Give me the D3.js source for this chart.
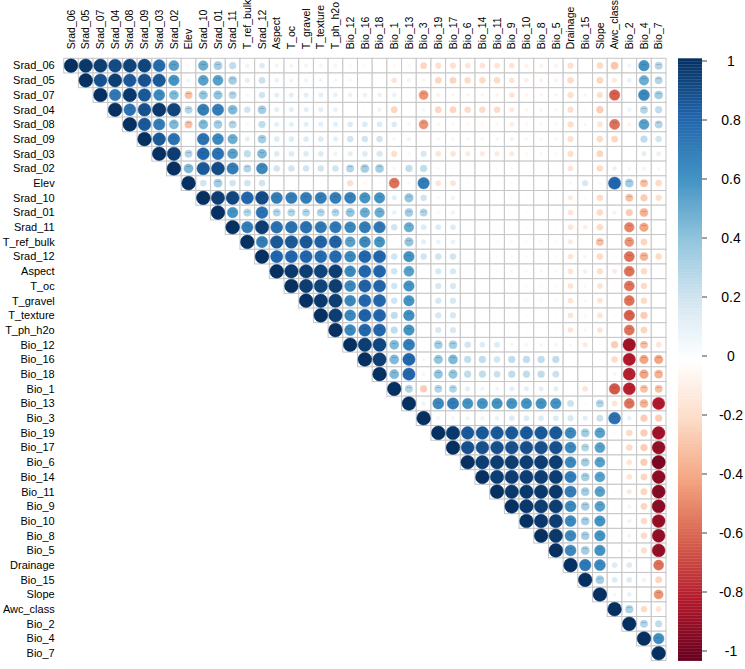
<!DOCTYPE html>
<html lang="en">
<head>
<meta charset="utf-8">
<title>Correlation plot</title>
<style>
    body { margin: 0; background: #fff; }
    text { font-family: "Liberation Sans", Arial, sans-serif; }
</style>
</head>
<body>
<div id="chart"></div>
<script src="https://cdn.jsdelivr.net/npm/d3@7"></script>
<script>
    // variable order (rows and columns)
    const vars = ["Srad_06", "Srad_05", "Srad_07", "Srad_04", "Srad_08", "Srad_09", "Srad_03", "Srad_02",
        "Elev", "Srad_10", "Srad_01", "Srad_11", "T_ref_bulk", "Srad_12", "Aspect", "T_oc", "T_gravel",
        "T_texture", "T_ph_h2o", "Bio_12", "Bio_16", "Bio_18", "Bio_1", "Bio_13", "Bio_3", "Bio_19",
        "Bio_17", "Bio_6", "Bio_14", "Bio_11", "Bio_9", "Bio_10", "Bio_8", "Bio_5", "Drainage", "Bio_15",
        "Slope", "Awc_class", "Bio_2", "Bio_4", "Bio_7"];

    // upper triangle: row i holds r(i, j) for j = i+1 .. end
    const upper = [
        [0.97, 0.95, 0.9, 0.93, 0.92, 0.78, 0.55, -0.05, 0.5, 0.35, 0.25, 0.08, 0.15, 0.08, 0.07, 0.07, 0.06, 0.06, -0.05, -0.04, 0, -0.05, -0.05, -0.22, -0.17, -0.17, -0.15, -0.15, -0.15, -0.15, -0.08, -0.08, -0.08, -0.18, 0, -0.2, -0.28, 0.08, 0.6, 0.3],
        [0.88, 0.95, 0.85, 0.88, 0.85, 0.6, 0.08, 0.55, 0.55, 0.35, 0.12, 0.22, 0.1, 0.08, 0.08, 0.07, 0.06, -0.06, 0, 0, -0.15, -0.08, -0.06, -0.22, -0.22, -0.2, -0.2, -0.2, -0.15, -0.1, -0.08, -0.08, -0.2, 0, -0.22, -0.12, 0.1, 0.5, 0.3],
        [0.72, 0.97, 0.85, 0.65, 0.45, -0.3, 0.4, 0.4, 0.3, 0.05, 0.2, 0.12, 0.12, 0.12, 0.12, 0.1, 0.1, 0.1, 0.1, 0.1, 0.02, -0.45, -0.08, -0.06, -0.06, -0.06, -0.06, -0.15, -0.06, -0.06, -0.06, -0.18, -0.06, -0.18, -0.6, 0, 0.65, 0.35],
        [0.75, 0.88, 0.97, 0.92, 0.3, 0.7, 0.7, 0.45, 0.2, 0.35, 0.12, 0.12, 0.12, 0.12, 0.1, 0, 0.03, 0.08, -0.22, 0, 0.06, -0.22, -0.22, -0.2, -0.2, -0.2, -0.12, -0.06, -0.06, -0.06, -0.18, 0.03, -0.25, 0, 0.08, 0.3, 0.25],
        [0.85, 0.7, 0.45, -0.3, 0.45, 0.35, 0.3, 0.05, 0.25, 0.12, 0.12, 0.12, 0.12, 0.12, 0.15, 0.15, 0.15, 0.15, 0.06, -0.45, -0.06, -0.05, -0.05, -0.05, -0.05, -0.1, -0.05, -0.05, -0.05, -0.18, -0.06, -0.15, -0.55, -0.08, 0.55, 0.3],
        [0.85, 0.75, 0.02, 0.75, 0.65, 0.5, 0.12, 0.35, 0.15, 0.15, 0.15, 0.15, 0.12, 0.2, 0.2, 0.2, 0.06, 0.08, 0, -0.06, -0.06, -0.06, -0.06, -0.06, -0.08, -0.05, -0.05, -0.05, -0.18, 0, -0.2, -0.22, 0, 0.25, 0.2],
        [0.95, 0.3, 0.8, 0.75, 0.55, 0.25, 0.45, 0.15, 0.15, 0.15, 0.15, 0.08, 0.12, 0.15, 0.18, -0.18, 0.05, 0.18, -0.15, -0.15, -0.12, -0.12, -0.12, -0.12, -0.05, -0.05, -0.05, -0.18, 0, -0.22, 0, 0, 0.12, 0.1],
        [0.45, 0.85, 0.9, 0.7, 0.3, 0.65, 0.2, 0.2, 0.2, 0.2, 0.2, 0.3, 0.35, 0.35, -0.06, 0.25, 0.25, -0.04, -0.04, -0.03, -0.03, -0.03, -0.04, -0.03, -0.03, -0.03, -0.15, 0, -0.2, 0.1, -0.06, -0.08, -0.05],
        [0.2, 0.35, 0.2, 0.2, 0.2, 0, 0, 0.02, 0.02, 0, -0.18, -0.05, -0.03, -0.55, -0.04, 0.7, -0.15, -0.15, -0.03, -0.03, -0.02, 0.03, 0, 0, 0, 0.05, 0.18, 0.04, 0.8, 0.35, -0.3, -0.2],
        [0.95, 0.92, 0.8, 0.9, 0.7, 0.7, 0.7, 0.7, 0.7, 0.68, 0.6, 0.6, 0.12, 0.4, 0.2, 0.05, 0.08, 0, 0, 0, -0.04, -0.03, -0.03, -0.03, -0.12, -0.04, -0.2, 0, -0.3, -0.25, -0.18],
        [0.6, 0.3, 0.75, 0.3, 0.3, 0.3, 0.3, 0.3, 0.4, 0.5, 0.5, 0.1, 0.35, 0.3, 0.05, 0.08, 0, 0, 0, 0, -0.03, -0.03, -0.03, -0.15, -0.03, -0.2, 0.08, -0.25, -0.35, 0],
        [0.7, 0.95, 0.75, 0.75, 0.75, 0.72, 0.72, 0.65, 0.7, 0.72, 0.2, 0.5, 0.15, 0.15, 0.15, 0.02, 0, 0.02, 0, -0.03, 0, -0.03, -0.15, -0.1, -0.2, 0, -0.5, -0.4, 0],
        [0.7, 0.85, 0.85, 0.85, 0.82, 0.82, 0.55, 0.65, 0.6, 0.02, 0.4, 0.12, 0.1, 0.1, -0.02, -0.02, -0.03, -0.05, -0.04, -0.04, -0.04, -0.12, 0, -0.3, 0, -0.45, -0.22, 0],
        [0.8, 0.8, 0.8, 0.78, 0.78, 0.65, 0.8, 0.8, 0.2, 0.6, 0.2, 0.2, 0.2, 0, 0, -0.03, -0.04, -0.04, -0.04, -0.04, -0.15, -0.06, -0.2, -0.03, -0.55, -0.35, -0.2],
        [0.97, 0.95, 0.93, 0.95, 0.65, 0.8, 0.8, 0.2, 0.55, 0, 0.18, 0.18, 0, 0, -0.03, -0.05, -0.05, -0.05, -0.05, -0.15, -0.1, -0.18, -0.12, -0.55, -0.2, 0],
        [0.95, 0.93, 0.95, 0.65, 0.82, 0.8, 0.2, 0.6, 0, 0.18, 0.18, 0, 0, -0.02, -0.04, -0.04, -0.04, -0.04, -0.15, -0.05, -0.15, -0.03, -0.55, -0.2, 0],
        [0.97, 0.95, 0.65, 0.8, 0.8, 0.2, 0.6, 0.02, 0.18, 0.18, 0.02, 0.02, 0, -0.04, -0.04, -0.04, -0.04, -0.15, -0.05, -0.15, -0.03, -0.55, -0.2, 0],
        [0.95, 0.65, 0.82, 0.8, 0.25, 0.62, 0, 0.18, 0.18, 0, 0, 0, -0.03, -0.03, -0.03, -0.03, -0.15, -0.05, -0.15, -0.03, -0.6, -0.25, 0],
        [0.65, 0.8, 0.8, 0.25, 0.6, 0, 0.18, 0.18, 0, 0, 0, -0.03, -0.03, -0.03, -0.03, -0.15, -0.05, -0.15, -0.03, -0.55, -0.22, 0],
        [0.95, 0.92, 0.45, 0.7, 0, 0.35, 0.35, 0.2, 0.15, 0.15, 0.06, 0.06, 0.06, 0.06, -0.05, -0.12, -0.02, -0.25, -0.85, -0.3, -0.15],
        [0.95, 0.45, 0.8, 0.05, 0.4, 0.45, 0.25, 0.25, 0.2, 0.25, 0.25, 0.25, 0.25, 0, -0.02, -0.03, -0.2, -0.8, -0.4, -0.4],
        [0.45, 0.8, 0.06, 0.4, 0.4, 0.25, 0.25, 0.22, 0.25, 0.25, 0.25, 0.22, 0, -0.02, -0.02, -0.06, -0.78, -0.4, -0.35],
        [0.3, -0.25, 0.3, 0.3, 0.12, 0.08, 0.08, 0.12, 0.12, 0.12, 0.12, 0.02, -0.15, 0, -0.62, -0.78, -0.3, -0.3],
        [0.08, 0.65, 0.7, 0.6, 0.6, 0.6, 0.6, 0.6, 0.6, 0.6, 0.22, 0.03, 0.3, -0.15, -0.55, -0.35, -0.8],
        [0.06, 0.06, 0.08, 0.08, 0.1, 0.15, 0.15, 0.15, 0.15, 0.18, 0.12, 0.22, 0.75, 0.1, -0.25, -0.25],
        [0.97, 0.85, 0.85, 0.85, 0.85, 0.85, 0.85, 0.85, 0.65, 0.35, 0.55, 0.03, -0.2, -0.25, -0.85],
        [0.88, 0.88, 0.88, 0.88, 0.88, 0.88, 0.88, 0.65, 0.3, 0.55, 0.02, -0.2, -0.25, -0.88],
        [0.95, 0.95, 0.95, 0.95, 0.95, 0.95, 0.65, 0.35, 0.55, 0.02, -0.15, -0.25, -0.95],
        [0.95, 0.95, 0.95, 0.95, 0.95, 0.7, 0.35, 0.55, 0.02, -0.15, -0.22, -0.9],
        [0.97, 0.97, 0.97, 0.97, 0.7, 0.35, 0.55, 0.03, -0.12, -0.22, -0.92],
        [0.97, 0.95, 0.95, 0.65, 0.35, 0.55, 0.03, -0.08, -0.22, -0.9],
        [0.97, 0.95, 0.65, 0.35, 0.6, 0, -0.08, -0.2, -0.88],
        [0.97, 0.65, 0.35, 0.6, 0.03, -0.08, -0.2, -0.88],
        [0.65, 0.35, 0.6, 0.02, -0.06, -0.18, -0.88],
        [0.72, 0.65, 0.15, 0.15, -0.03, -0.55],
        [0.35, 0.15, 0.15, 0.08, -0.22],
        [0.06, 0.1, 0, -0.45],
        [0.32, -0.2, -0.15],
        [0.3, 0.25],
        [0.62],
        []
    ];

    const legendTicks = [1, 0.8, 0.6, 0.4, 0.2, 0, -0.2, -0.4, -0.6, -0.8, -1];
    const palette = ["#67001F", "#B2182B", "#D6604D", "#F4A582", "#FDDBC7", "#FFFFFF",
        "#D1E5F0", "#92C5DE", "#4393C3", "#2166AC", "#053061"];

    const width = 745, height = 669;
    const gridLeft = 63.7, gridTop = 58.3, cell = 14.69;
    const n = vars.length;

    // flatten into cells, diagonal included
    const cells = [];
    vars.forEach((v, i) => {
        cells.push({row: i, col: i, r: 1});
        upper[i].forEach((r, k) => cells.push({row: i, col: i + 1 + k, r: r}));
    });

    const x = d3.scaleBand().domain(d3.range(n)).range([gridLeft, gridLeft + n * cell]);
    const y = d3.scaleBand().domain(d3.range(n)).range([gridTop, gridTop + n * cell]);
    const color = d3.scaleLinear()
        .domain(d3.range(11).map(k => -1 + k * 0.2))
        .range(palette);
    const radius = d3.scaleSqrt().domain([0, 1]).range([0, cell * 0.465]);

    const svg = d3.select("#chart").append("svg")
        .attr("width", width)
        .attr("height", height);

    // grid cells
    svg.append("g")
        .selectAll("rect")
        .data(cells)
        .join("rect")
        .attr("x", d => x(d.col))
        .attr("y", d => y(d.row))
        .attr("width", cell)
        .attr("height", cell)
        .attr("fill", "#fff")
        .attr("stroke", "#c6c6c6")
        .attr("stroke-width", 1);

    // circles
    svg.append("g")
        .selectAll("circle")
        .data(cells)
        .join("circle")
        .attr("cx", d => x(d.col) + cell / 2)
        .attr("cy", d => y(d.row) + cell / 2)
        .attr("r", d => radius(Math.abs(d.r)))
        .attr("fill", d => color(d.r))
        .attr("stroke", d => color(d.r))
        .attr("stroke-width", 0.5);

    // tiny significance marks
    svg.append("g")
        .selectAll("text")
        .data(cells.filter(d => Math.abs(d.r) >= 0.3))
        .join("text")
        .attr("x", d => x(d.col) + cell / 2)
        .attr("y", d => y(d.row) + cell / 2 + 1)
        .attr("text-anchor", "middle")
        .attr("font-size", 4)
        .attr("fill", "#333")
        .attr("fill-opacity", 0.6)
        .text("***");

    // row labels
    svg.append("g")
        .selectAll("text")
        .data(vars)
        .join("text")
        .attr("x", gridLeft - 9)
        .attr("y", (d, i) => y(i) + cell / 2)
        .attr("dy", "0.35em")
        .attr("text-anchor", "end")
        .attr("font-size", 11)
        .attr("fill", "#000")
        .text(d => d);

    // column labels
    svg.append("g")
        .selectAll("text")
        .data(vars)
        .join("text")
        .attr("transform", (d, i) => "translate(" + (x(i) + cell / 2) + "," + (gridTop - 9) + ") rotate(-90)")
        .attr("dy", "0.35em")
        .attr("text-anchor", "start")
        .attr("font-size", 10.5)
        .attr("fill", "#000")
        .text(d => d);

    // colour legend
    const barX = 678, barW = 24;
    const barTop = gridTop, barBottom = gridTop + n * cell;
    const ly = d3.scaleLinear().domain([-1, 1]).range([651, 61]);
    const steps = d3.range(200).map(k => -1 + (k + 0.5) * 2 / 200);
    const stepH = (barBottom - barTop) / 200;
    const legend = svg.append("g");
    legend.selectAll("rect")
        .data(steps)
        .join("rect")
        .attr("x", barX)
        .attr("y", (d, k) => barBottom - (k + 1) * stepH)
        .attr("width", barW)
        .attr("height", stepH + 0.3)
        .attr("fill", d => color(d));

    legend.selectAll("line")
        .data(legendTicks)
        .join("line")
        .attr("x1", barX + barW)
        .attr("x2", barX + barW + 5)
        .attr("y1", d => ly(d))
        .attr("y2", d => ly(d))
        .attr("stroke", "#444")
        .attr("stroke-width", 1);

    legend.selectAll("text")
        .data(legendTicks)
        .join("text")
        .attr("x", 731)
        .attr("y", d => ly(d))
        .attr("dy", "0.35em")
        .attr("text-anchor", "middle")
        .attr("font-size", 14)
        .attr("fill", "#000")
        .text(d => d);
</script>
</body>
</html>
